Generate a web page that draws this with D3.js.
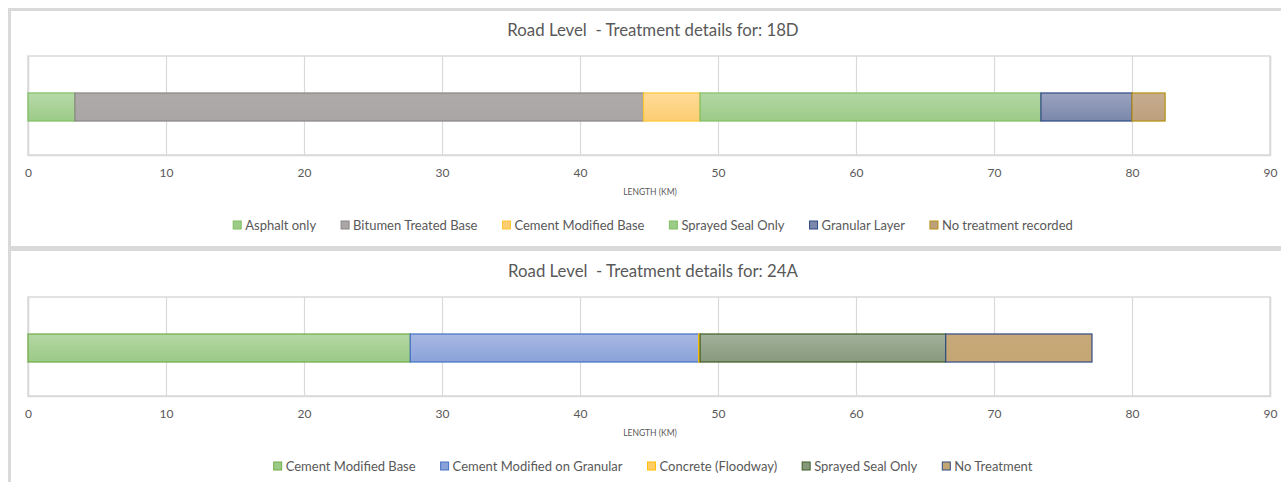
<!DOCTYPE html>
<html>
<head>
<meta charset="utf-8">
<script src="https://cdn.jsdelivr.net/npm/d3@7"></script>
<style>
  html, body { margin: 0; padding: 0; background: #ffffff; }
  svg { display: block; }
  text { font-family: Lato, "Open Sans", sans-serif; fill: #595959; }
</style>
</head>
<body>
<svg id="chart" width="1281" height="482"></svg>
<script>
// ---- Road 18D ----
const road18DName = "18D";
const road18DTreatments = ["Asphalt only", "Bitumen Treated Base", "Cement Modified Base",
  "Sprayed Seal Only", "Granular Layer", "No treatment recorded"];
const road18DLengths = [3.4, 41.2, 4.1, 24.7, 6.6, 2.4];
const road18DFills = [["#b7d9a9", "#9ccb87"], ["#aeaaa9", "#aaa6a5"], ["#ffdb99", "#fccd72"],
  ["#b3d7a4", "#9ccb87"], ["#9ba3bf", "#7b87ab"], ["#c6ad90", "#bda07d"]];
const road18DStrokes = ["#7fbf63", "#8a8685", "#ffc633", "#7fbf63", "#2f4a86", "#b8900f"];

// ---- Road 24A ----
const road24AName = "24A";
const road24ATreatments = ["Cement Modified Base", "Cement Modified on Granular",
  "Concrete (Floodway)", "Sprayed Seal Only", "No Treatment"];
const road24ALengths = [27.7, 20.9, 0.1, 17.8, 10.6];
const road24AFills = [["#b5d8a5", "#9bca86"], ["#a9b8e3", "#8aa2d9"], ["#ffd88a", "#ffcc66"],
  ["#a3b19c", "#87997d"], ["#c7a878", "#c4a574"]];
const road24AStrokes = ["#70ad47", "#4472c4", "#ffc000", "#3e5c24", "#2f4a86"];

const xTicks = [0, 10, 20, 30, 40, 50, 60, 70, 80, 90];
const xTitle = "LENGTH (KM)";
const titlePrefix = "Road Level  - Treatment details for: ";

const svg = d3.select("#chart");
const defs = svg.append("defs");

// outer frame bands
const frame = svg.append("g").attr("fill", "#d9d9d9");
frame.append("rect").attr("x", 8).attr("y", 8).attr("width", 3).attr("height", 474);
frame.append("rect").attr("x", 8).attr("y", 8).attr("width", 1273).attr("height", 3);
frame.append("rect").attr("x", 8).attr("y", 246).attr("width", 1273).attr("height", 5);

const plotLeft = 28, plotRight = 1270;
const x = d3.scaleLinear().domain([0, 90]).range([plotLeft, plotRight]);

function drawPanel(offsetY, roadName, treatments, lengths, fills, strokes, id) {
  const g = svg.append("g").attr("transform", `translate(0,${offsetY})`);
  const plotTop = 56, plotBottom = 155;

  g.append("text")
    .attr("x", 653).attr("y", 36)
    .attr("text-anchor", "middle")
    .attr("font-family", "'Open Sans', sans-serif")
    .attr("font-size", 16.8)
    .attr("fill", "#6b6b6b")
    .style("white-space", "pre")
    .text(titlePrefix + roadName);

  // plot area frame + vertical gridlines
  g.append("rect")
    .attr("x", plotLeft).attr("y", plotTop)
    .attr("width", plotRight - plotLeft).attr("height", plotBottom - plotTop)
    .attr("fill", "none").attr("stroke", "#d9d9d9").attr("stroke-width", 1.5);

  const axis = d3.axisBottom(x).tickValues(xTicks).tickSize(-(plotBottom - plotTop)).tickPadding(13);
  const ax = g.append("g").attr("transform", `translate(0,${plotBottom})`).call(axis);
  ax.select(".domain").attr("stroke", "#d9d9d9").attr("stroke-width", 1.5);
  ax.selectAll(".tick line").attr("stroke", "#d9d9d9").attr("stroke-width", 1.2);
  ax.selectAll(".tick text").attr("fill", "#767676").attr("font-size", 12)
    .attr("font-family", "Lato, sans-serif");

  g.append("text")
    .attr("x", 650).attr("y", plotBottom + 40)
    .attr("text-anchor", "middle")
    .attr("font-size", 8.5)
    .attr("fill", "#666666")
    .text(xTitle);

  // stacked segments
  const y = d3.scaleBand().domain([roadName]).range([plotTop + 3, plotBottom]).padding(0.548);
  const row = {};
  treatments.forEach((t, i) => { row[t] = lengths[i]; });
  const stacked = d3.stack().keys(treatments)([row]);

  treatments.forEach((t, i) => {
    const gid = `${id}-grad-${i}`;
    const lg = defs.append("linearGradient").attr("id", gid)
      .attr("x1", 0).attr("y1", 0).attr("x2", 0).attr("y2", 1);
    lg.append("stop").attr("offset", "0%").attr("stop-color", fills[i][0]);
    lg.append("stop").attr("offset", "100%").attr("stop-color", fills[i][1]);
  });

  g.append("g").selectAll("rect")
    .data(stacked)
    .join("rect")
    .attr("x", d => x(d[0][0]))
    .attr("y", y(roadName))
    .attr("width", d => x(d[0][1]) - x(d[0][0]))
    .attr("height", y.bandwidth())
    .attr("fill", (d, i) => `url(#${id}-grad-${i})`)
    .attr("stroke", (d, i) => strokes[i])
    .attr("stroke-width", 1.2);

  // legend
  const legend = g.append("g");
  const items = legend.selectAll("g").data(treatments).join("g");
  items.append("rect")
    .attr("x", 0).attr("y", -5).attr("width", 8).attr("height", 8)
    .attr("fill", (d, i) => fills[i][1])
    .attr("stroke", (d, i) => strokes[i]).attr("stroke-width", 1);
  items.append("text")
    .attr("x", 12).attr("y", 4)
    .attr("font-size", 13)
    .text(d => d);
  let cursor = 0;
  const gap = 25;
  items.each(function () {
    const w = d3.select(this).select("text").node().getComputedTextLength();
    d3.select(this).attr("transform", `translate(${cursor},0)`);
    cursor += 12 + w + gap;
  });
  const total = cursor - gap;
  legend.attr("transform", `translate(${653 - total / 2},${plotBottom + 71})`);
}

drawPanel(0, road18DName, road18DTreatments, road18DLengths, road18DFills, road18DStrokes, "r18d");
drawPanel(241, road24AName, road24ATreatments, road24ALengths, road24AFills, road24AStrokes, "r24a");
</script>
</body>
</html>
